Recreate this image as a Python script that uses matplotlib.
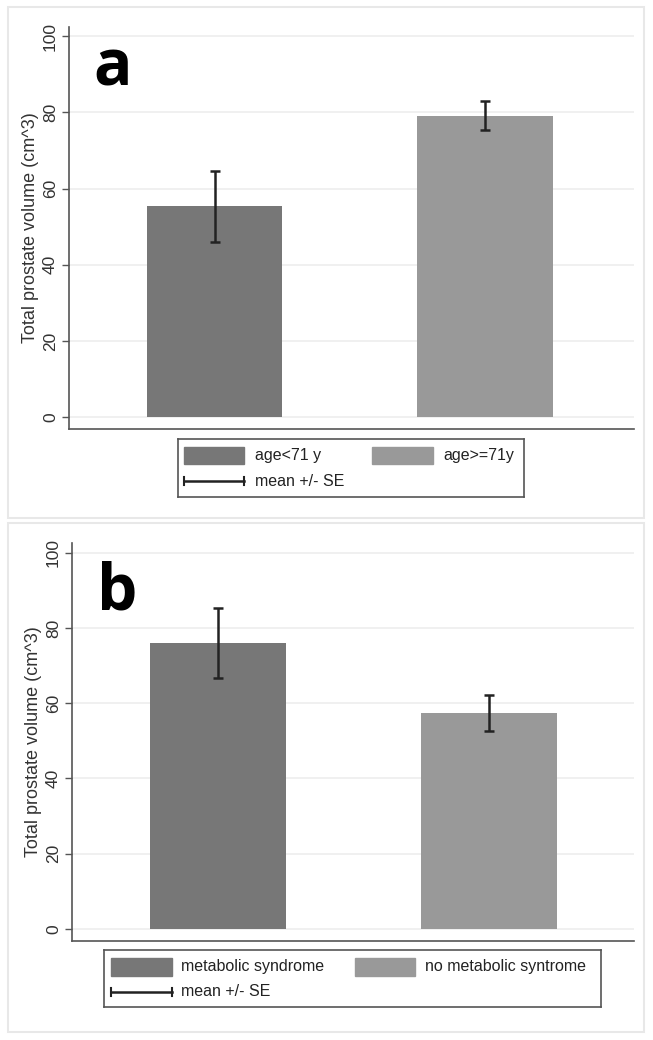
import matplotlib
matplotlib.use("Agg")
import matplotlib.pyplot as plt
from matplotlib.patches import Rectangle

# ---------------------------------------------------------------------------
# Data
# ---------------------------------------------------------------------------
groups_a = ["age<71 y", "age>=71y"]
means_a = [55.3, 79.0]
lower_a = [46.0, 75.4]
upper_a = [64.7, 83.0]

groups_b = ["metabolic syndrome", "no metabolic syntrome"]
means_b = [76.0, 57.3]
lower_b = [66.8, 52.6]
upper_b = [85.3, 62.2]

yticks = [0, 20, 40, 60, 80, 100]
ylabel = "Total prostate volume (cm^3)"
se_label = "mean +/- SE"

BAR_COLORS = ["#777777", "#999999"]
W, H = 653, 1040

plt.rcParams["font.family"] = ["Liberation Sans", "DejaVu Sans"]
fig = plt.figure(figsize=(W / 100, H / 100), dpi=100)


def px_axes(left, top, right, bottom, **kw):
    """Add an axes given pixel edges (origin top-left)."""
    return fig.add_axes([left / W, 1 - bottom / H, (right - left) / W, (bottom - top) / H], **kw)


def frame(left, top, right, bottom):
    fig.patches.append(Rectangle((left / W, 1 - bottom / H), (right - left) / W,
                                 (bottom - top) / H, transform=fig.transFigure,
                                 fill=False, edgecolor="#e8e8e8", lw=1.5))


def bar_panel(box, ylim, xlim, means, lower, upper, letter, letter_xy):
    ax = px_axes(*box)
    x = list(range(len(means)))
    ax.bar(x, means, width=0.5, color=BAR_COLORS, zorder=2)
    err = [[m - l for m, l in zip(means, lower)], [u - m for m, u in zip(means, upper)]]
    ax.errorbar(x, means, yerr=err, fmt="none", ecolor="#222222", elinewidth=1.8,
                capsize=3.5, capthick=1.8, zorder=3)
    ax.set_xlim(*xlim)
    ax.set_ylim(*ylim)
    ax.set_xticks([])
    ax.set_yticks(yticks)
    ax.set_yticklabels([str(t) for t in yticks], rotation=90, va="center", fontsize=12.5,
                       color="#333333")
    ax.tick_params(axis="y", length=5, width=1, color="#555555", pad=3)
    ax.grid(axis="y", color="#f0f0f0", lw=1.4, zorder=0)
    ax.set_axisbelow(True)
    for s in ("top", "right"):
        ax.spines[s].set_visible(False)
    for s in ("left", "bottom"):
        ax.spines[s].set_color("#555555")
        ax.spines[s].set_linewidth(1.2)
    ax.set_ylabel(ylabel, fontsize=13, color="#333333", labelpad=3)
    fig.text(letter_xy[0] / W, 1 - letter_xy[1] / H, letter, fontsize=46,
             fontweight="bold", family="Open Sans", va="baseline", ha="left")
    return ax


def legend_box(box, labels, patch_x, label_x, patch_row, se_row):
    left, top, right, bottom = box
    lg = px_axes(left, top, right, bottom)
    lg.set_xlim(left, right)
    lg.set_ylim(bottom, top)
    lg.set_xticks([])
    lg.set_yticks([])
    for s in lg.spines.values():
        s.set_color("#555555")
        s.set_linewidth(1.2)
    for (x0, x1), lx, lab, c in zip(patch_x, label_x, labels, BAR_COLORS):
        lg.add_patch(Rectangle((x0, patch_row[0]), x1 - x0, patch_row[1] - patch_row[0],
                               color=c))
        lg.text(lx, (patch_row[0] + patch_row[1]) / 2, lab, fontsize=11.5,
                va="center", ha="left", color="#222222")
    x0, x1 = patch_x[0]
    lg.plot([x0, x1], [se_row, se_row], color="#222222", lw=1.8)
    lg.plot([x0, x0], [se_row - 4, se_row + 4], color="#222222", lw=1.5)
    lg.plot([x1, x1], [se_row - 4, se_row + 4], color="#222222", lw=1.5)
    lg.text(label_x[0], se_row, se_label, fontsize=11.5, va="center", ha="left",
            color="#222222")


# Panel a
frame(8, 7, 644, 518)
bar_panel((69, 27, 634, 429), (-3.1, 102.4), (-0.538, 1.551),
          means_a, lower_a, upper_a, "a", (93, 85))
legend_box((178, 439, 524, 497), groups_a,
           [(184, 244), (372, 433)], [255, 443], (447, 464), 481)

# Panel b
frame(8, 523, 644, 1032)
bar_panel((72, 543, 634, 941), (-3.2, 102.6), (-0.538, 1.536),
          means_b, lower_b, upper_b, "b", (97, 610))
legend_box((104, 950, 601, 1007), groups_b,
           [(111, 172), (355, 415)], [181, 425], (958, 976), 992)

fig.savefig("out.png", dpi=100)
